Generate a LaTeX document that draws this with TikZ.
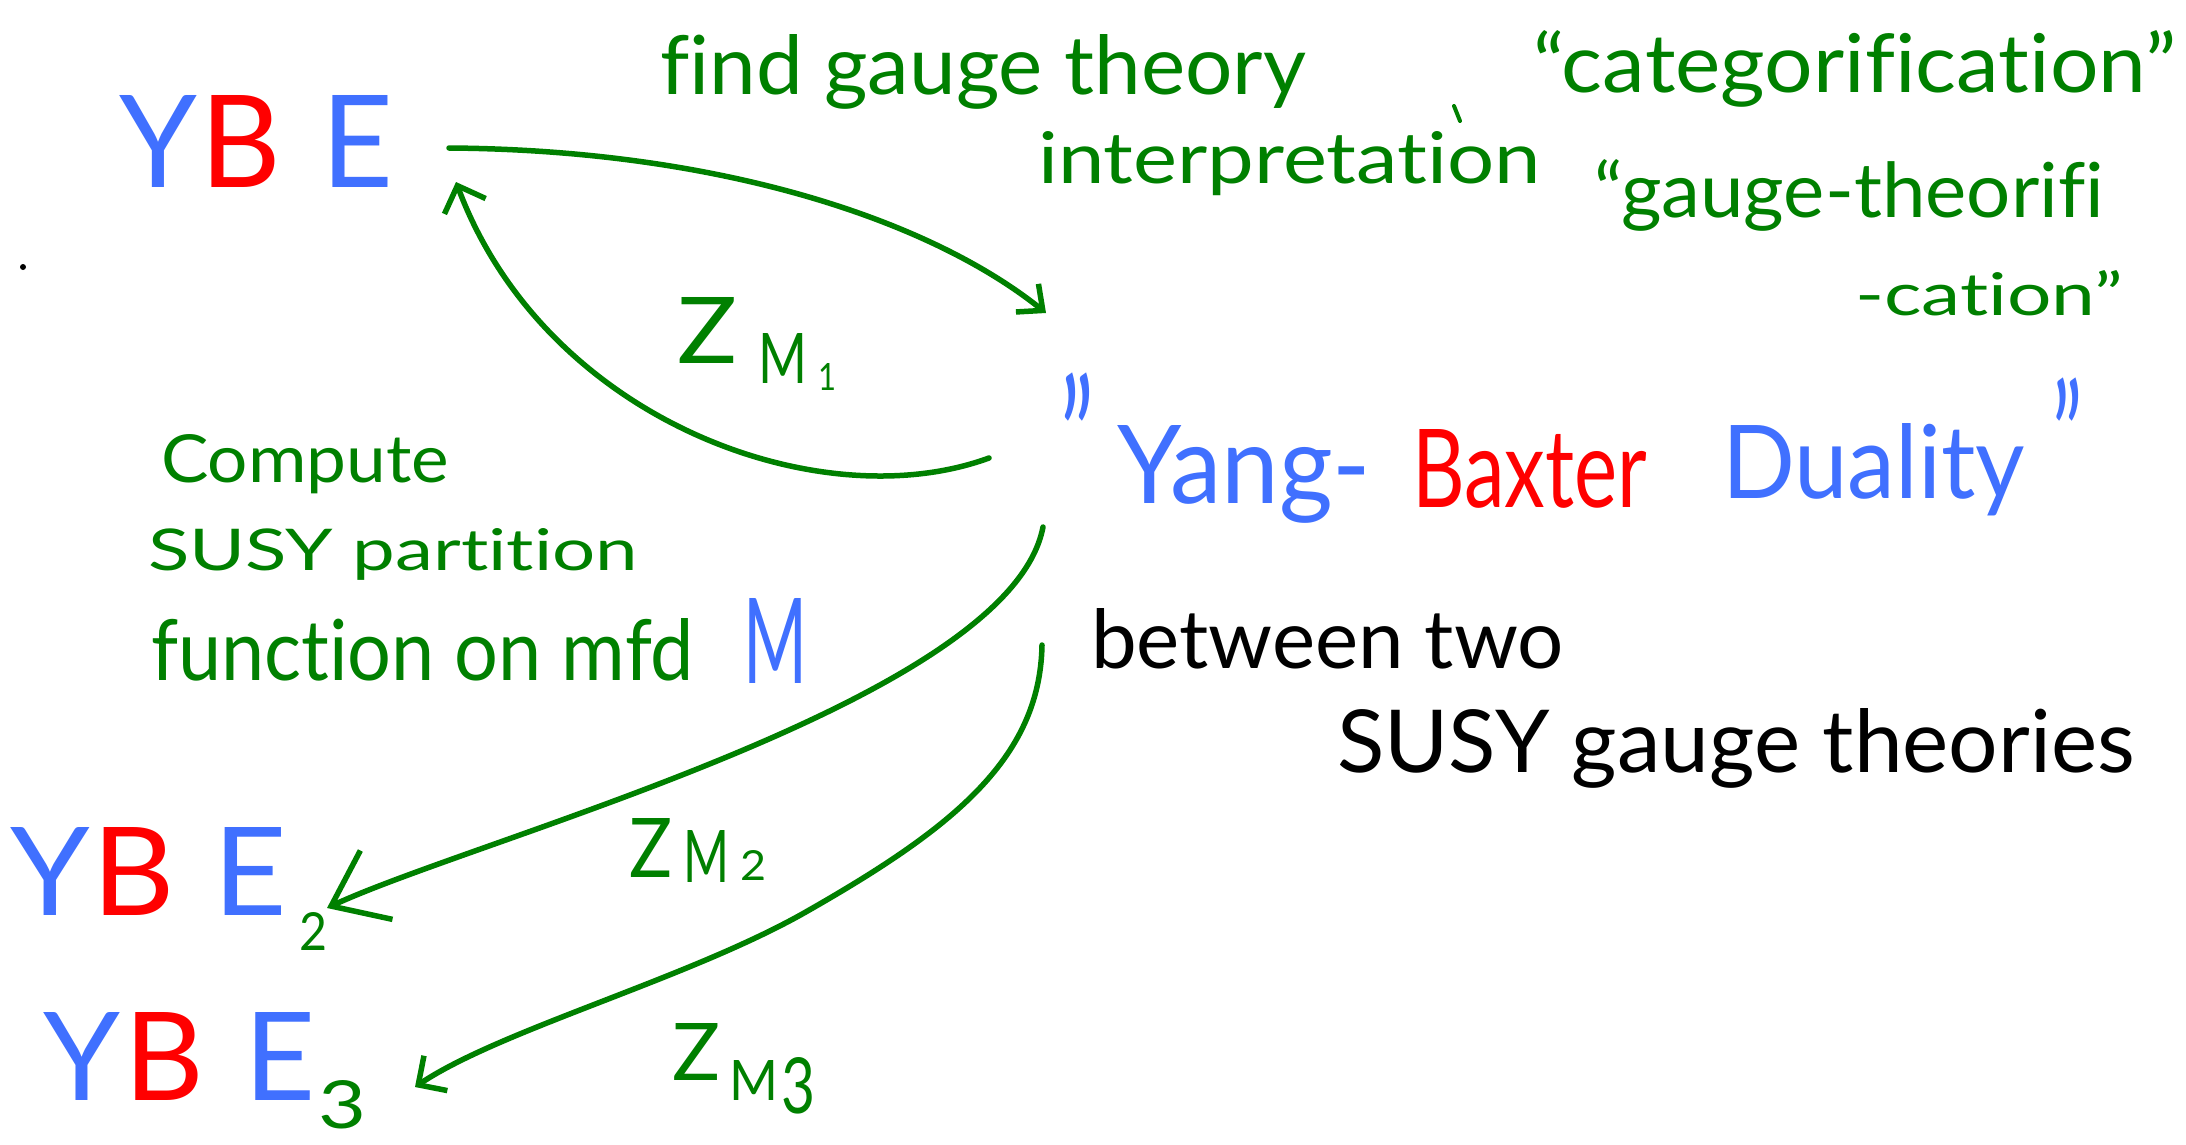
\documentclass[tikz,border=0pt]{standalone}
\usepackage{fontspec}
\setmainfont{Lato}[Ligatures={TeX,NoCommon,NoContextual,NoRare}]
\usetikzlibrary{arrows.meta}
\definecolor{hwgreen}{RGB}{0,128,0}
\definecolor{hwblue}{RGB}{64,112,255}
\definecolor{hwred}{RGB}{255,0,0}
\newcommand\rsz[3]{\resizebox{#1pt}{#2pt}{#3}}
\tikzset{
  txt/.style={inner sep=0pt, outer sep=0pt, anchor=base west, font=\fontsize{60}{72}\selectfont},
  gtxt/.style={txt, text=hwgreen},
  btxt/.style={txt, text=hwblue},
  rtxt/.style={txt, text=hwred},
  ktxt/.style={txt, text=black},
  arr/.style={draw=hwgreen, line width=5.5pt, line cap=round, line join=round},
}
\begin{document}
\begin{tikzpicture}[x=1pt, y=-1pt]
\fill[white] (0,0) rectangle (2186,1145);
\useasboundingbox (0,0) rectangle (2186,1145);

% top YBE
\node[btxt] (ybe1) at (119,187) {\rsz{274}{92}{Y\hspace{2pt}\textcolor{hwred}{B}\hspace{19pt}E}};
\fill[black] (23,267) circle[radius=3];

% green notes at top
\node[gtxt] (find) at (660,95) {\rsz{646}{60}{find gauge theory}};
\node[gtxt] (interp) at (1038,183) {\rsz{503}{52}{interpretation}};
\node[gtxt] (categ) at (1533,93) {\rsz{643}{62}{``categorification''}};
\node[gtxt] (gtheor) at (1594,217) {\rsz{510}{58}{``gauge-theorifi}};
\node[gtxt] (cation) at (1855,315) {\rsz{268}{45}{-cation''}};
\draw[hwgreen, line width=4pt, line cap=round] (1454,106) -- (1460,121);

% Yang-Baxter Duality
\node[btxt, anchor=north west] (q1) at (1060,373) {\scalebox{0.55}[1]{\fontsize{167}{170}\selectfont "}};
\node[btxt] (yang) at (1117,503) {\rsz{254}{78}{Yang-}};
\node[rtxt] (baxter) at (1412,507) {\rsz{235}{78}{Baxter}};
\node[btxt] (duality) at (1722,498) {\rsz{303}{75}{Duality}};
\node[btxt, anchor=north west] (q2) at (2052,378) {\scalebox{0.55}[1]{\fontsize{150}{160}\selectfont "}};

% black text
\node[ktxt] (between) at (1091,668) {\rsz{473}{60}{between two}};
\node[ktxt] (susyg) at (1337,772) {\rsz{798}{64}{SUSY gauge theories}};

% compute note
\node[gtxt] (compute) at (161,482) {\rsz{288}{48}{Compute}};
\node[gtxt] (susyp) at (148,570) {\rsz{490}{42}{SUSY partition}};
\node[gtxt] (func) at (151,680) {\rsz{543}{62}{function on mfd}};
\node[btxt] (Mmfd) at (743,683) {\rsz{64}{85}{M}};

% YBE_2 and YBE_3
\node[btxt] (ybe2) at (11,915) {\rsz{276}{88}{Y\hspace{1pt}\textcolor{hwred}{B}\hspace{18pt}E}};
\node[gtxt] (sub2) at (299,950) {\rsz{28}{38}{2}};
\node[btxt] (ybe3) at (43,1100) {\rsz{273}{88}{Y\hspace{2pt}\textcolor{hwred}{B}\hspace{20pt}E}};
\node[gtxt] (sub3) at (318,1128) {\rsz{48}{48}{3}};

% Z labels
\node[gtxt] (z1) at (677,363) {\rsz{60}{66}{Z}};
\node[gtxt] (z1m) at (758,383) {\rsz{49}{50}{M}};
\node[gtxt] (z1n) at (818,390) {\rsz{18}{27}{1}};
\node[gtxt] (z2) at (629,877) {\rsz{43}{59}{Z}};
\node[gtxt] (z2m) at (683,882) {\rsz{46}{52}{M}};
\node[gtxt] (z2n) at (740,880) {\rsz{26}{30}{2}};
\node[gtxt] (z3) at (672,1080) {\rsz{48}{57}{Z}};
\node[gtxt] (z3m) at (729,1100) {\rsz{49}{40}{M}};
\node[gtxt] (z3n) at (781,1113) {\rsz{34}{56}{3}};

% arrow end points
\coordinate (a1s) at (449,148);
\coordinate (a1e) at (1046,313);
\coordinate (a2s) at (989,458);
\coordinate (a2e) at (456,182);
\coordinate (a3s) at (1043,527);
\coordinate (a3e) at (327,908);
\coordinate (a4s) at (1042,645);
\coordinate (a4e) at (415,1087);

\draw[arr, -{Straight Barb[length=20pt,width=36pt]}] (a1s) .. controls (720,150) and (930,220) .. (a1e);
\draw[arr, -{Straight Barb[length=22pt,width=44pt]}] (a2s) .. controls (820,520) and (545,420) .. (a2e);
\draw[arr, -{Straight Barb[length=50pt,width=76pt]}] (a3s) .. controls (1010,700) and (477,838) .. (a3e);
\draw[arr, -{Straight Barb[length=21pt,width=42pt]}] (a4s) .. controls (1040,760) and (950,830) .. (804,913) .. controls (687,979) and (500,1030) .. (a4e);
\end{tikzpicture}
\end{document}
